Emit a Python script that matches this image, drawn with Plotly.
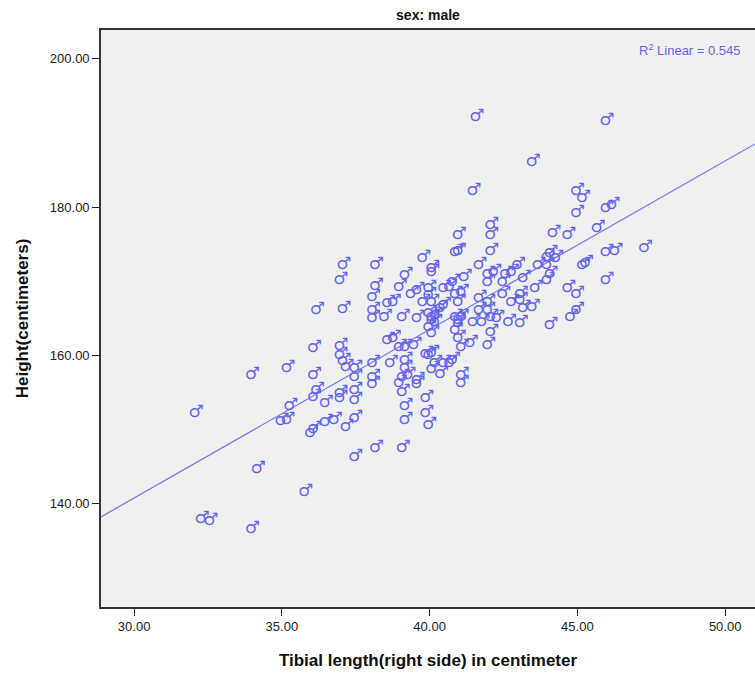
import numpy as np
import plotly.graph_objects as go

# Tibial length (right side) in cm, and height in cm — males
tibial_length = [
    32.1, 32.3, 32.6, 34.0, 34.2, 35.8, 35.3, 35.0, 35.2, 36.1, 36.2, 36.5, 37.0, 37.0,
    36.0, 36.1, 36.5, 36.8, 37.2, 37.5, 37.5, 37.5,
    37.1, 38.2, 37.0, 38.2, 38.1, 38.6, 38.8, 36.2, 37.1, 38.1, 38.1, 38.5, 36.1, 37.0,
    37.0, 37.1, 37.2, 38.6, 38.8, 35.2, 34.0, 36.1, 37.5, 37.5, 38.1, 38.7, 38.1, 38.1,
    38.2, 37.5,
    39.2, 39.2, 39.3, 39.9, 40.0, 40.1, 40.1, 40.4, 40.2, 40.5, 40.7, 40.8, 41.1, 41.1,
    39.0, 39.1, 39.1, 39.6, 39.6, 39.2, 39.2, 39.9, 39.9, 40.0, 39.1,
    41.6, 46.0, 43.5, 41.5, 45.0, 45.2, 46.0, 46.2, 45.0, 42.1, 42.1, 41.0, 45.7, 44.2,
    44.7, 40.9, 41.0, 42.1, 46.0, 46.3, 47.3, 39.8, 40.1, 40.1, 39.2, 41.7, 42.0, 42.2,
    42.0, 41.2, 40.8, 43.0, 42.6, 42.8, 42.5, 43.2, 43.7, 44.0, 44.1, 44.3, 44.0, 44.1,
    44.0, 45.2, 45.3, 46.0, 39.0, 39.6, 39.4, 40.0, 40.0, 40.1, 40.5, 40.7, 40.9, 41.1,
    41.0, 40.4, 40.5, 39.8, 40.0, 40.1, 40.2, 40.1, 40.2, 40.0, 40.1, 39.1, 39.6, 40.9,
    41.0, 41.1, 41.0, 40.9, 41.0, 41.5, 41.8, 41.7, 42.0, 41.7, 42.0, 42.1, 42.3, 42.5,
    42.8, 43.1, 43.1, 43.2, 43.5, 43.6, 42.7, 43.1, 42.1, 44.1, 44.7, 45.0, 44.8, 45.0,
    41.4, 42.0, 39.0, 39.2, 39.5, 41.1,
]
height_cm = [
    152.3, 138.0, 137.7, 136.6, 144.7, 141.6, 153.3, 151.2, 151.3, 154.4, 155.4, 153.6, 155.0, 154.3,
    149.6, 150.2, 151.1, 151.3, 150.4, 155.4, 154.0, 151.6,
    172.2, 172.2, 170.2, 169.4, 168.0, 167.1, 167.2, 166.2, 166.3, 166.2, 165.1, 165.2, 161.0, 161.3,
    160.1, 159.3, 158.5, 162.1, 162.4, 158.3, 157.4, 157.4, 158.3, 157.1, 159.0, 159.1, 157.1, 156.2,
    147.6, 146.3,
    159.4, 158.3, 157.4, 160.2, 160.1, 160.4, 158.2, 157.5, 159.1, 159.0, 159.0, 159.4, 157.4, 156.3,
    156.3, 157.1, 155.1, 156.7, 156.2, 153.3, 151.3, 154.3, 152.3, 150.7, 147.6,
    192.2, 191.6, 186.2, 182.2, 182.2, 181.3, 180.0, 180.3, 179.2, 177.6, 176.3, 176.3, 177.3, 176.5,
    176.3, 174.0, 174.1, 174.2, 174.0, 174.1, 174.5, 173.2, 171.8, 171.3, 170.9, 172.2, 171.1, 171.3,
    169.9, 170.6, 169.9, 172.2, 171.1, 171.3, 169.9, 170.5, 172.2, 173.3, 173.8, 173.2, 172.2, 171.1,
    170.2, 172.2, 172.5, 170.2, 169.3, 168.9, 168.4, 169.1, 168.2, 167.2, 169.1, 169.3, 168.4, 168.6,
    167.2, 166.4, 166.8, 167.2, 165.8, 165.2, 165.5, 164.8, 164.5, 163.9, 163.1, 165.2, 165.1, 165.2,
    164.8, 165.2, 164.4, 163.5, 162.4, 164.5, 164.5, 167.8, 167.2, 166.2, 166.2, 165.2, 165.1, 168.4,
    167.2, 168.4, 167.5, 166.4, 166.6, 169.1, 164.5, 164.4, 163.2, 164.1, 169.1, 168.4, 165.2, 166.2,
    161.7, 161.4, 161.2, 161.2, 161.4, 161.2,
]

x_ticks = [30, 35, 40, 45, 50]
x_tick_labels = ["30.00", "35.00", "40.00", "45.00", "50.00"]
y_ticks = [140, 160, 180, 200]
y_tick_labels = ["140.00", "160.00", "180.00", "200.00"]
x_range = [28.88, 51.01]
y_range = [126.1, 203.9]
r2_text = "R<sup>2</sup> Linear = 0.545"

BLUE = "#6464F0"

slope, intercept = np.polyfit(tibial_length, height_cm, 1)
fit_x = np.array(x_range)
fit_y = intercept + slope * fit_x

fig = go.Figure()
fig.add_trace(go.Scatter(
    x=fit_x, y=fit_y, mode="lines",
    line=dict(color="#7474F2", width=1.2),
    hoverinfo="skip", showlegend=False,
))
fig.add_trace(go.Scatter(
    x=tibial_length, y=height_cm, mode="text",
    text=["\u2642"] * len(tibial_length),
    textposition="middle center",
    textfont=dict(family="DejaVu Sans", size=17, color=BLUE),
    showlegend=False,
))

axis_font = dict(family="Liberation Sans, Arial", size=13, color="#222222")
fig.update_layout(
    width=755, height=675,
    margin=dict(l=101, r=0, t=30, b=68),
    paper_bgcolor="white",
    plot_bgcolor="#F0F0F0",
    showlegend=False,
    font=dict(family="Liberation Sans, Arial", color="#222222"),
    title=dict(text="<b>sex: male</b>", x=0.5, xref="paper", y=1 - 15 / 675,
               yref="container", xanchor="center", yanchor="middle",
               font=dict(family="Liberation Sans, Arial", size=14, color="#111111")),
    xaxis=dict(
        range=x_range, tickvals=x_ticks, ticktext=x_tick_labels,
        showgrid=False, zeroline=False, automargin=False,
        showline=True, linecolor="#333333", linewidth=1.6, mirror=True,
        ticks="outside", ticklen=7, tickwidth=1.2, tickcolor="#222222",
        tickfont=axis_font,
        title=dict(text="<b>Tibial length(right side) in centimeter</b>",
                   font=dict(family="Liberation Sans, Arial", size=17, color="#111111"),
                   standoff=21),
    ),
    yaxis=dict(
        range=y_range, tickvals=y_ticks, ticktext=y_tick_labels,
        showgrid=False, zeroline=False, automargin=False,
        showline=True, linecolor="#333333", linewidth=1.6, mirror=False,
        ticks="outside", ticklen=7, tickwidth=1.2, tickcolor="#222222",
        tickfont=axis_font,
        title=dict(text="<b>Height(centimeters)</b>",
                   font=dict(family="Liberation Sans, Arial", size=17, color="#111111"),
                   standoff=17),
    ),
    annotations=[dict(
        text=r2_text, xref="paper", yref="paper", x=0.982, y=0.965,
        xanchor="right", yanchor="middle", showarrow=False,
        font=dict(family="Liberation Sans, Arial", size=13, color=BLUE),
    )],
)

# remove the browser's default 8px page margin so the figure sits at the window corner
fig.write_html("out.html", config={"displayModeBar": False},
               post_script="document.body.style.margin='0';")
